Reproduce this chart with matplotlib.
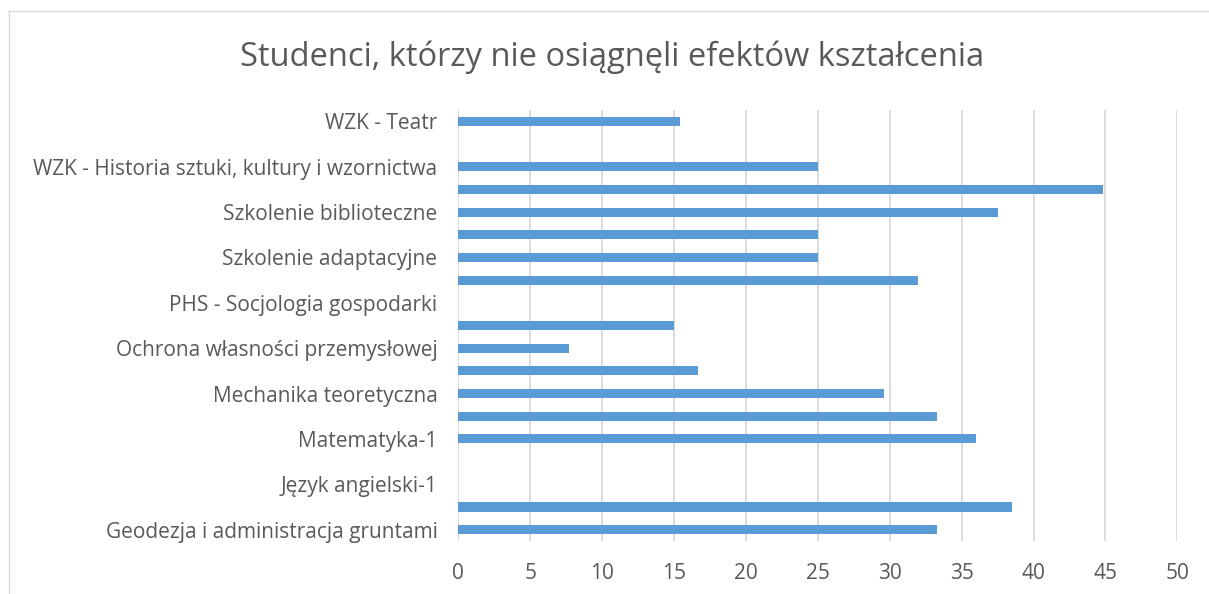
import matplotlib.pyplot as plt
import matplotlib.lines as mlines

# kategorie od dołu do góry (jak w Excelu)
przedmioty = [
    "Geodezja i administracja gruntami",
    "Grafika inżynierska",
    "Język angielski-1",
    "Język angielski-2",
    "Matematyka-1",
    "Matematyka-2",
    "Mechanika teoretyczna",
    "Metrologia",
    "Ochrona własności przemysłowej",
    "Ochrona środowiska",
    "PHS - Socjologia gospodarki",
    "Podstawy ekonomii",
    "Szkolenie adaptacyjne",
    "Szkolenie BHP",
    "Szkolenie biblioteczne",
    "Technologie informacyjne",
    "WZK - Historia sztuki, kultury i wzornictwa",
    "WZK - Muzyka",
    "WZK - Teatr",
]
procent = [33.3, 38.5, 0, 0, 36.0, 33.3, 29.6, 16.7, 7.7, 15.0,
           0, 32.0, 25.0, 25.0, 37.5, 44.8, 25.0, 0, 15.4]
# Excel pokazuje co druga etykiete
etykiety = [p if i % 2 == 0 else "" for i, p in enumerate(przedmioty)]
xticki = list(range(0, 55, 5))

plt.rcParams['font.family'] = ['Open Sans', 'DejaVu Sans']
szary = '#595959'

fig = plt.figure(figsize=(12.09, 5.94), dpi=100)
ax = fig.add_axes([0.3791, 0.0892, 0.5947, 0.7256])

ax.barh(range(len(przedmioty)), procent, height=0.4, color='#5B9BD5', zorder=3)

ax.set_xlim(0, 50)
ax.set_ylim(-0.5, len(przedmioty) - 0.5)
ax.set_xticks(xticki)
ax.set_yticks(range(len(przedmioty)))
ax.set_yticklabels(etykiety)
ax.tick_params(axis='both', length=0, colors=szary, labelsize=15)
ax.tick_params(axis='y', pad=15)
ax.tick_params(axis='x', pad=16)
ax.grid(axis='x', color='#D9D9D9', linewidth=1.3, zorder=0)
for s in ax.spines.values():
    s.set_visible(False)

fig.text(0.506, 0.904, "Studenci, którzy nie osiągnęli efektów kształcenia",
         ha='center', va='center', fontsize=23.5, color=szary)

# ramka obszaru wykresu
fig.add_artist(mlines.Line2D([9/1209, 9/1209], [0, 1 - 11/594], color='#D9D9D9', linewidth=1))
fig.add_artist(mlines.Line2D([9/1209, 1], [1 - 11/594, 1 - 11/594], color='#D9D9D9', linewidth=1))

fig.savefig('out.png', dpi=100)
